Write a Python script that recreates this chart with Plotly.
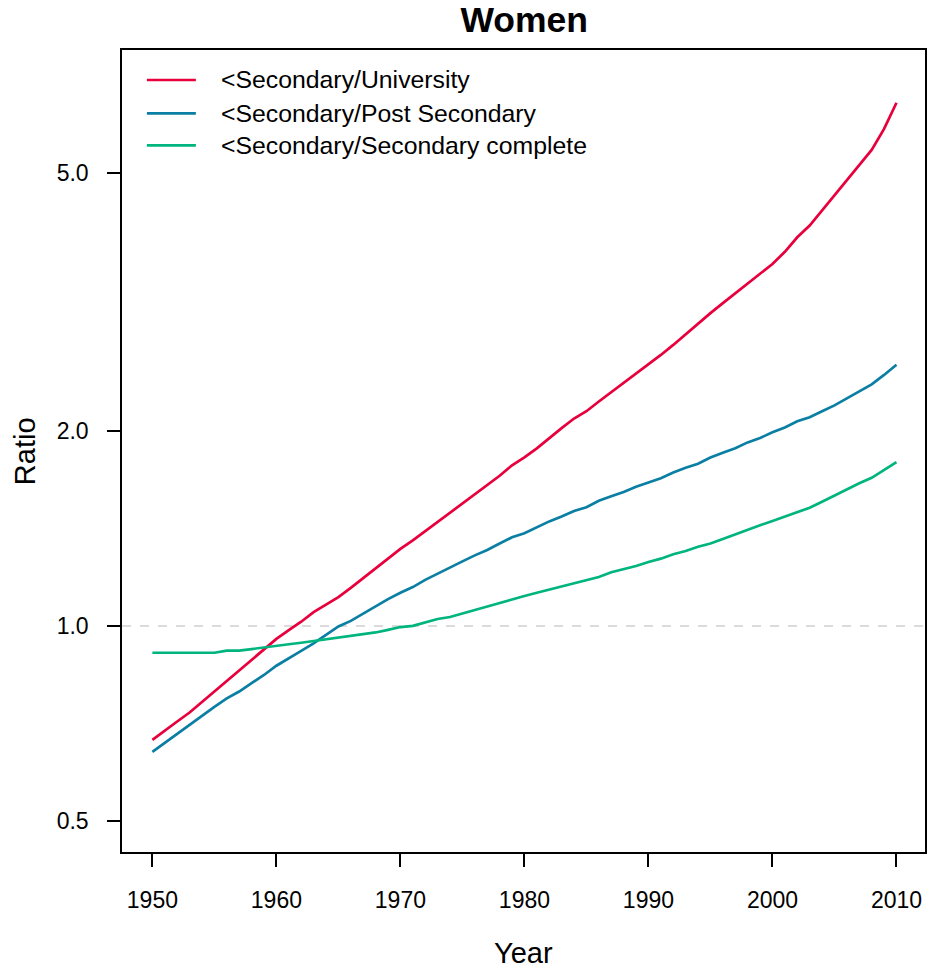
import plotly.graph_objects as go

# Years covered by the series
years = list(range(1950, 2011))

# Ratio of women with less than secondary education to each higher level
ratio_university = [
    0.667, 0.690, 0.712, 0.735, 0.763, 0.790, 0.822, 0.853, 0.885, 0.920,
    0.955, 0.985, 1.015, 1.050, 1.080, 1.108, 1.145, 1.185, 1.225, 1.270,
    1.315, 1.355, 1.400, 1.450, 1.495, 1.545, 1.600, 1.650, 1.705, 1.770,
    1.820, 1.880, 1.950, 2.020, 2.090, 2.145, 2.220, 2.295, 2.370, 2.450,
    2.530, 2.620, 2.715, 2.820, 2.930, 3.040, 3.150, 3.260, 3.380, 3.500,
    3.620, 3.780, 3.980, 4.150, 4.380, 4.620, 4.880, 5.150, 5.430, 5.850,
    6.420,
]
ratio_post_secondary = [
    0.639, 0.660, 0.682, 0.703, 0.726, 0.750, 0.773, 0.792, 0.816, 0.840,
    0.868, 0.890, 0.915, 0.940, 0.968, 0.998, 1.018, 1.045, 1.070, 1.100,
    1.125, 1.148, 1.178, 1.205, 1.232, 1.258, 1.285, 1.310, 1.340, 1.370,
    1.390, 1.420, 1.450, 1.475, 1.505, 1.525, 1.560, 1.585, 1.610, 1.640,
    1.665, 1.690, 1.725, 1.755, 1.780, 1.820, 1.850, 1.880, 1.920, 1.950,
    1.990, 2.025, 2.070, 2.100, 2.145, 2.190, 2.245, 2.300, 2.360, 2.440,
    2.530,
]
ratio_secondary_complete = [
    0.909, 0.909, 0.909, 0.909, 0.909, 0.909, 0.916, 0.916, 0.921, 0.927,
    0.932, 0.937, 0.942, 0.948, 0.953, 0.958, 0.966, 0.971, 0.977, 0.986,
    0.996, 1.000, 1.012, 1.025, 1.032, 1.045, 1.060, 1.073, 1.087, 1.100,
    1.112, 1.125, 1.138, 1.151, 1.163, 1.175, 1.190, 1.210, 1.223, 1.237,
    1.255, 1.270, 1.290, 1.305, 1.325, 1.340, 1.362, 1.385, 1.408, 1.430,
    1.452, 1.476, 1.500, 1.522, 1.555, 1.590, 1.625, 1.660, 1.693, 1.740,
    1.790,
]

series_names = [
    "<Secondary/University",
    "<Secondary/Post Secondary",
    "<Secondary/Secondary complete",
]
series_values = [ratio_university, ratio_post_secondary, ratio_secondary_complete]
series_colors = ["#E8003D", "#0A7FA3", "#00B47E"]

y_tick_values = [0.5, 1.0, 2.0, 5.0]
y_tick_labels = ["0.5", "1.0", "2.0", "5.0"]
x_tick_values = [1950, 1960, 1970, 1980, 1990, 2000, 2010]

x_range = [1947.55, 2012.3]
y_range_log = [-0.349, 0.889]

FONT = "Liberation Sans, Arial, sans-serif"

fig = go.Figure()

# Reference line at parity
fig.add_trace(go.Scatter(
    x=x_range, y=[1.0, 1.0], mode="lines",
    line=dict(color="#D0D0D0", width=1.5, dash="dash"),
    showlegend=False, hoverinfo="skip",
))

for name, vals, col in zip(series_names, series_values, series_colors):
    fig.add_trace(go.Scatter(
        x=years, y=vals, mode="lines", name=name,
        line=dict(color=col, width=2.7),
        showlegend=False,
    ))

# Hand-placed legend in the top-left corner of the plot area
legend_rows_y = [0.9626, 0.9210, 0.8812]
shapes = []
annotations = []
for name, col, yy in zip(series_names, series_colors, legend_rows_y):
    shapes.append(dict(
        type="line", xref="paper", yref="paper",
        x0=0.031, x1=0.092, y0=yy, y1=yy,
        line=dict(color=col, width=2.7),
    ))
    annotations.append(dict(
        xref="paper", yref="paper", x=0.121, y=yy,
        text=name, showarrow=False, xanchor="left", yanchor="middle",
        font=dict(family=FONT, size=24.8, color="black"),
    ))

# Axis titles
annotations.append(dict(
    xref="paper", yref="paper", x=0.5, y=-0.126, text="Year",
    showarrow=False, xanchor="center", yanchor="middle",
    font=dict(family=FONT, size=29, color="black"),
))
annotations.append(dict(
    xref="paper", yref="paper", x=-0.1206, y=0.5, text="Ratio",
    showarrow=False, xanchor="center", yanchor="middle", textangle=-90,
    font=dict(family=FONT, size=29, color="black"),
))

fig.update_layout(
    width=927, height=972,
    margin=dict(l=122, r=0, t=50, b=120),
    paper_bgcolor="white", plot_bgcolor="white",
    title=dict(
        text="<b>Women</b>", x=0.5655, xanchor="center",
        y=1 - 20 / 972, yanchor="middle", yref="container",
        font=dict(family=FONT, size=35.5, color="black"),
    ),
    shapes=shapes,
    annotations=annotations,
    showlegend=False,
)

fig.update_xaxes(
    range=x_range, tickvals=x_tick_values,
    showgrid=False, zeroline=False,
    showline=True, mirror=True, linecolor="black", linewidth=1.5,
    ticks="outside", ticklen=13, tickwidth=1.5, tickcolor="black",
    tickfont=dict(family=FONT, size=23, color="black"),
    ticklabelstandoff=14,
)
fig.update_yaxes(
    type="log", range=y_range_log,
    tickvals=y_tick_values, ticktext=y_tick_labels,
    showgrid=False, zeroline=False,
    showline=True, mirror=True, linecolor="black", linewidth=1.5,
    ticks="outside", ticklen=13, tickwidth=1.5, tickcolor="black",
    tickfont=dict(family=FONT, size=23, color="black"),
    ticklabelstandoff=14,
)

fig.write_html("out.html")
